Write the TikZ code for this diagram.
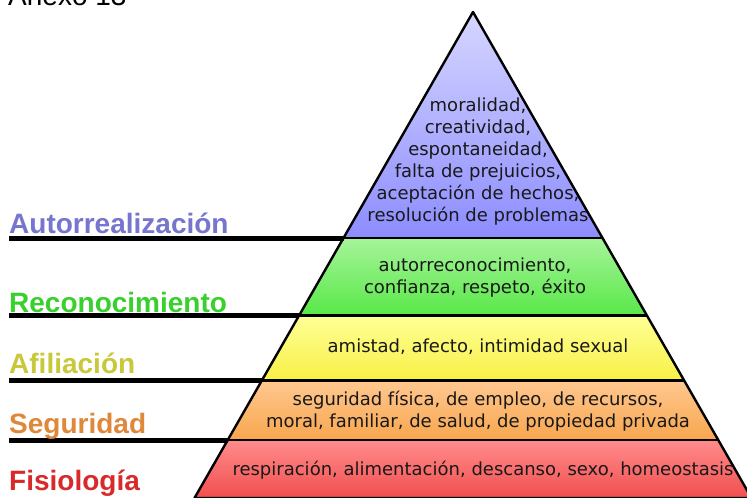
\documentclass[tikz,border=0pt]{standalone}
\usepackage{fontspec}
\setmainfont{DejaVu Sans}
\newfontfamily\labfont{Liberation Sans}
\definecolor{lviolet}{HTML}{7676CE}
\definecolor{lgreen}{HTML}{38D02C}
\definecolor{lyellow}{HTML}{C8C83A}
\definecolor{lorange}{HTML}{E0883A}
\definecolor{lred}{HTML}{D82A2A}
\begin{document}
\begin{tikzpicture}[x=1pt,y=-1pt,
  band/.style={draw=black,line width=2.4pt,line join=round},
  extline/.style={draw=black,line width=5pt},
  lvl/.style={font=\labfont\bfseries\fontsize{28}{30}\selectfont,anchor=base west,inner sep=0pt},
  inner/.style={font=\fontsize{18}{22}\selectfont,align=center,inner sep=0pt,text=black!90}]
\useasboundingbox (0,0) rectangle (747,498);
\clip (0,0) rectangle (747,498);
\fill[white] (0,0) rectangle (747,498);
% title (cut off at the top)
\node[font=\labfont\fontsize{28}{30}\selectfont,anchor=base west,inner sep=0pt] (anexo) at (8,5) {Anexo 13};
% band corners
\coordinate (apex) at (473,12);
\coordinate (a1) at (343.5,238); \coordinate (b1) at (602.5,238);
\coordinate (a2) at (299,315.5); \coordinate (b2) at (647,315.5);
\coordinate (a3) at (262,380.5); \coordinate (b3) at (684,380.5);
\coordinate (a4) at (227.8,440); \coordinate (b4) at (718.2,440);
\coordinate (a5) at (194.5,498); \coordinate (b5) at (751.5,498);
% bands
\shade[top color=white!20!blue!20,middle color=white!10!blue!15,bottom color=blue!45!white] (apex) -- (b1) -- (a1) -- cycle;
\shade[top color={rgb,255:red,166;green,244;blue,154},bottom color={rgb,255:red,88;green,232;blue,72}] (a1) -- (b1) -- (b2) -- (a2) -- cycle;
\shade[top color={rgb,255:red,255;green,255;blue,150},bottom color={rgb,255:red,248;green,240;blue,70}] (a2) -- (b2) -- (b3) -- (a3) -- cycle;
\shade[top color={rgb,255:red,255;green,200;blue,144},bottom color={rgb,255:red,248;green,166;blue,78}] (a3) -- (b3) -- (b4) -- (a4) -- cycle;
\shade[top color={rgb,255:red,255;green,140;blue,140},bottom color={rgb,255:red,242;green,78;blue,78}] (a4) -- (b4) -- (b5) -- (a5) -- cycle;
% outlines
\draw[band] (apex) -- (b5) -- (a5) -- cycle;
\draw[band] (a1) -- (b1);
\draw[band] (a2) -- (b2);
\draw[band] (a3) -- (b3);
\draw[band] (a4) -- (b4);
% extension lines to the left
\coordinate (e1) at (9,238); \coordinate (e2) at (9,315.5);
\coordinate (e3) at (9,380.5); \coordinate (e4) at (9,440);
\draw[extline] (e1) -- (a1);
\draw[extline] (e2) -- (a2);
\draw[extline] (e3) -- (a3);
\draw[extline] (e4) -- (a4);
% level names
\node[lvl,text=lviolet] (autor) at (9,233) {Autorrealización};
\node[lvl,text=lgreen] (recon) at (9,312) {Reconocimiento};
\node[lvl,text=lyellow] (afil) at (9,373) {Afiliación};
\node[lvl,text=lorange] (segu) at (9,433) {Seguridad};
\node[lvl,text=lred] (fisio) at (9,490) {Fisiología};
% contents
\node[inner] (t1) at (478,162) {moralidad,\\creatividad,\\espontaneidad,\\falta de prejuicios,\\aceptación de hechos,\\resolución de problemas};
\node[inner] (t2) at (475,277.5) {autorreconocimiento,\\confianza, respeto, éxito};
\node[inner,anchor=base] (t3) at (478,352) {amistad, afecto, intimidad sexual};
\node[inner] (t4) at (478,411) {seguridad física, de empleo, de recursos,\\moral, familiar, de salud, de propiedad privada};
\node[inner,anchor=base] (t5) at (483,475) {respiración, alimentación, descanso, sexo, homeostasis};
\end{tikzpicture}
\end{document}
